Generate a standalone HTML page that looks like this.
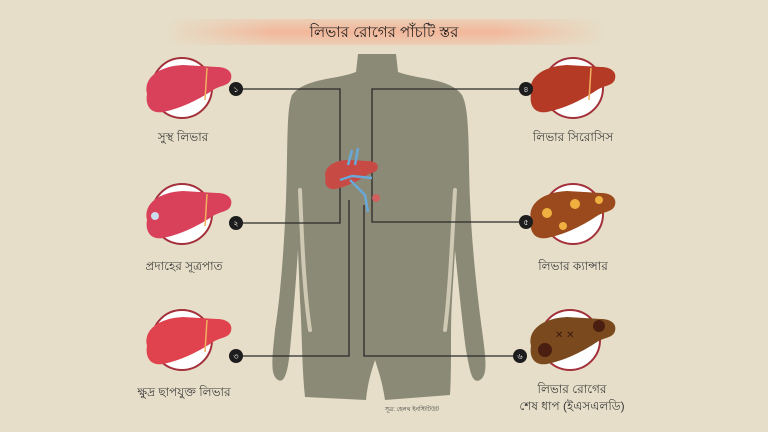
<!DOCTYPE html>
<html><head><meta charset="utf-8"><style>
body{margin:0;background:#e6dec8}
svg{display:block}
text{font-family:"Liberation Sans","Noto Sans CJK SC",sans-serif}
</style></head><body>
<svg width="768" height="432" viewBox="0 0 768 432" xmlns="http://www.w3.org/2000/svg">
<defs>
<linearGradient id="ban" x1="0" x2="1">
<stop offset="0" stop-color="#f3b79a" stop-opacity="0"/>
<stop offset="0.25" stop-color="#f3b79a"/>
<stop offset="0.75" stop-color="#f3b79a"/>
<stop offset="1" stop-color="#f3b79a" stop-opacity="0"/>
</linearGradient>
<linearGradient id="ban2" x1="0" y1="0" x2="0" y2="1">
<stop offset="0" stop-color="#e6dec8" stop-opacity="0.6"/>
<stop offset="0.5" stop-color="#e6dec8" stop-opacity="0"/>
<stop offset="1" stop-color="#e6dec8" stop-opacity="0.6"/>
</linearGradient>
<path id="lv" d="M4,32 C0,16 16,4 40,3 L74,5 C84,5 90,10 88,17 C86,24 78,23 70,28 C58,36 40,46 20,50 C8,52 2,44 4,32 Z"/>
</defs>
<rect x="165" y="19" width="440" height="26" fill="url(#ban)"/>
<rect x="165" y="19" width="440" height="26" fill="url(#ban2)"/>
<text x="384" y="37" font-size="15" text-anchor="middle" fill="#222">লিভার রোগের পাঁচটি স্তর</text>

<!-- body silhouette -->
<g fill="#8b8a77">
<path d="M358,54 L396,54 L398,72 C420,80 450,78 462,95 C470,110 468,150 470,200 C472,250 478,300 482,330 C486,360 488,375 480,380 C472,384 470,372 466,350 C462,320 458,280 455,250 L452,300 C450,330 452,360 450,395 L385,400 C382,380 378,370 375,360 C372,370 368,380 366,400 L305,397 C302,370 302,330 300,300 L298,250 C296,280 293,320 290,350 C288,370 285,384 278,380 C270,375 272,360 275,330 C280,300 284,250 286,200 C288,150 286,110 292,95 C305,78 335,80 356,72 Z"/>
</g>
<g stroke="#e6dec8" stroke-width="4" fill="none" opacity="0.75" stroke-linecap="round">
<path d="M300,190 C302,240 304,290 310,330"/>
<path d="M455,190 C452,240 450,290 445,330"/>
</g>

<!-- connector lines -->
<g stroke="#2a2a2a" stroke-width="1.3" fill="none">
<path d="M236,89 H340 V223 H236"/>
<path d="M236,356 H349 V200"/>
<path d="M526,89 H372 V222 H526"/>
<path d="M520,356 H364 V205"/>
</g>

<!-- central liver -->
<g transform="translate(323,158) scale(0.62)">
<use href="#lv" fill="#c84a44"/>
</g>
<path d="M348,165 L352,150 M355,165 L358,148 M350,180 L365,195 L368,212 M340,180 L352,176 L372,178" stroke="#6aa8d8" stroke-width="2.5" fill="none"/>
<circle cx="376" cy="198" r="4" fill="#d06060"/>

<!-- left livers -->
<g>
<circle cx="182" cy="88" r="30" fill="#fff" stroke="#a3303a" stroke-width="2"/>
<g transform="translate(143,62)"><use href="#lv" fill="#d9415a"/><path d="M64,6 L62,38" stroke="#f0b060" stroke-width="1.5"/></g>
<circle cx="182" cy="214" r="30" fill="#fff" stroke="#a3303a" stroke-width="2"/>
<g transform="translate(143,188)"><use href="#lv" fill="#d9415a"/><path d="M64,6 L62,38" stroke="#f0b060" stroke-width="1.5"/><circle cx="12" cy="28" r="4" fill="#cde"/></g>
<circle cx="182" cy="340" r="30" fill="#fff" stroke="#a3303a" stroke-width="2"/>
<g transform="translate(143,314)"><use href="#lv" fill="#e0434e"/><path d="M64,6 L62,38" stroke="#f0b060" stroke-width="1.5"/></g>
</g>
<!-- right livers -->
<g>
<circle cx="573" cy="88" r="30" fill="#fff" stroke="#a3303a" stroke-width="2"/>
<g transform="translate(527,62)"><use href="#lv" fill="#b53a26"/><path d="M64,6 L62,38" stroke="#f0b060" stroke-width="1.5"/></g>
<circle cx="573" cy="214" r="30" fill="#fff" stroke="#a3303a" stroke-width="2"/>
<g transform="translate(527,188)"><use href="#lv" fill="#9a4a1c"/><circle cx="20" cy="25" r="5" fill="#f0b040"/><circle cx="48" cy="16" r="5" fill="#f0b040"/><circle cx="72" cy="12" r="4" fill="#f0b040"/><circle cx="36" cy="38" r="4" fill="#f0b040"/></g>
<circle cx="570" cy="340" r="30" fill="#fff" stroke="#a3303a" stroke-width="2"/>
<g transform="translate(527,314)"><use href="#lv" fill="#7a4a1e"/><circle cx="18" cy="36" r="7" fill="#4a1e10"/><circle cx="72" cy="12" r="6" fill="#4a1e10"/><text x="28" y="24" font-size="10" fill="#3a1a10">✕ ✕</text></g>
</g>

<!-- number circles -->
<g fill="#1d1d1d">
<circle cx="236" cy="89" r="7"/><circle cx="236" cy="223" r="7"/><circle cx="236" cy="356" r="7"/>
<circle cx="526" cy="89" r="7"/><circle cx="526" cy="222" r="7"/><circle cx="520" cy="356" r="7"/>
</g>
<g fill="#fff" font-size="8" text-anchor="middle">
<text x="236" y="92">১</text><text x="236" y="226">২</text><text x="236" y="359">৩</text>
<text x="526" y="92">৪</text><text x="526" y="225">৫</text><text x="520" y="359">৬</text>
</g>

<g font-size="12" fill="#3a3a3a" text-anchor="middle">
<text x="183" y="141">সুস্থ লিভার</text>
<text x="184" y="270">প্রদাহের সূত্রপাত</text>
<text x="184" y="396">ক্ষুদ্র ছাপযুক্ত লিভার</text>
<text x="573" y="141">লিভার সিরোসিস</text>
<text x="573" y="270">লিভার ক্যান্সার</text>
<text x="572" y="393">লিভার রোগের</text>
<text x="572" y="410">শেষ ধাপ (ইএসএলডি)</text>
</g>
<text x="412" y="411" font-size="6" fill="#444" text-anchor="middle">সূত্র: হেলথ ইনস্টিটিউট</text>
</svg>
</body></html>
